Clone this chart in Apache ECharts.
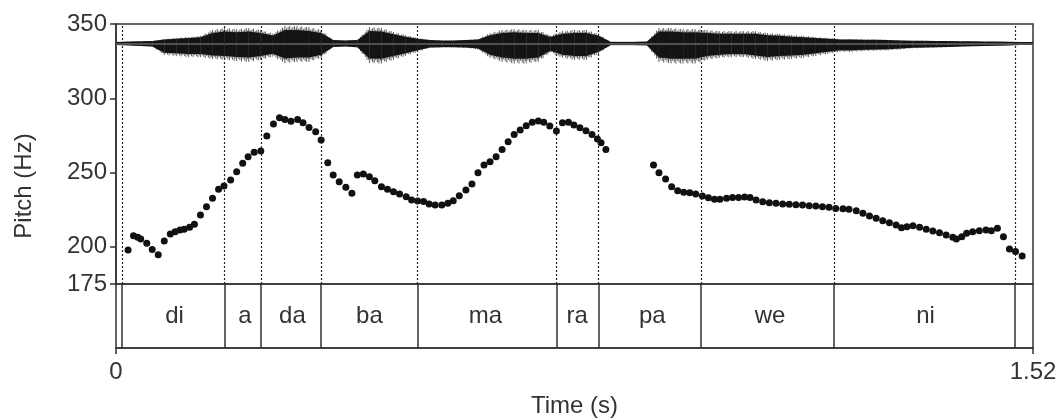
<!DOCTYPE html>
<html>
<head>
<meta charset="utf-8">
<script src="https://cdn.jsdelivr.net/npm/echarts@6/dist/echarts.min.js"></script>
<style>
  html, body { margin: 0; padding: 0; background: #fff; }
  #chart1 { width: 1064px; height: 419px; }
</style>
</head>
<body>
<div id="chart1"></div>
<script>
// pitch track (s, Hz)
var pitchTimes = [0.020, 0.029, 0.036, 0.041, 0.051, 0.060, 0.070, 0.080, 0.090, 0.098, 0.106, 0.113, 0.122, 0.130,
    0.140, 0.150, 0.160, 0.170, 0.179, 0.190, 0.200, 0.210, 0.219, 0.229, 0.240, 0.250, 0.261, 0.271, 0.280,
    0.290, 0.301, 0.310, 0.320, 0.331, 0.340, 0.351, 0.360, 0.370, 0.381, 0.391,
    0.400, 0.410, 0.420, 0.429, 0.440, 0.450, 0.460, 0.470, 0.481, 0.490, 0.500, 0.510, 0.519, 0.529, 0.540,
    0.550, 0.559, 0.569, 0.580, 0.590, 0.600, 0.610, 0.620, 0.630, 0.640, 0.650, 0.660, 0.670, 0.680, 0.690,
    0.700, 0.709, 0.719, 0.730, 0.740, 0.750, 0.759, 0.769, 0.779, 0.789, 0.798, 0.804, 0.812,
    0.891, 0.900, 0.911, 0.921, 0.931, 0.941, 0.951, 0.961, 0.972, 0.982, 0.992, 1.001, 1.012, 1.022, 1.032,
    1.042, 1.051, 1.061, 1.072, 1.083, 1.094, 1.105, 1.116, 1.127, 1.138, 1.149, 1.160, 1.171, 1.182, 1.193,
    1.205, 1.215, 1.227, 1.238, 1.249, 1.260, 1.271, 1.282, 1.293, 1.302, 1.311, 1.321, 1.332, 1.343, 1.354,
    1.365, 1.376, 1.387, 1.393, 1.402, 1.410, 1.420, 1.431, 1.442, 1.451, 1.461, 1.471, 1.481, 1.491, 1.502];
var pitchHz = [197.9, 207.5, 206.4, 205.3, 202.4, 198.3, 194.7, 203.9, 208.6, 210.2, 211.3, 211.8, 213.2, 215.2,
    221.4, 227.0, 232.7, 238.7, 240.9, 245.0, 250.6, 256.2, 260.7, 263.6, 264.5, 274.6, 282.7, 286.9, 285.8,
    284.5, 285.8, 283.5, 280.4, 277.5, 271.9, 256.6, 248.4, 243.8, 240.1, 236.0,
    248.4, 249.0, 247.2, 244.5, 240.5, 238.7, 237.1, 235.6, 233.8, 231.5, 230.9, 230.6, 228.8, 228.2, 228.2,
    229.3, 231.1, 234.4, 238.3, 242.3, 249.9, 255.1, 257.3, 260.7, 265.6, 270.8, 275.7, 278.6, 281.5, 283.8,
    284.7, 283.8, 281.3, 278.0, 283.5, 283.8, 282.0, 280.2, 278.2, 275.7, 272.6, 270.1, 265.6,
    255.1, 249.9, 245.7, 240.5, 237.8, 236.7, 236.4, 235.6, 234.2, 233.1, 232.0, 232.0, 232.7, 233.3, 233.3,
    233.5, 233.3, 231.5, 230.4, 229.7, 229.3, 228.8, 228.6, 228.4, 228.2, 227.7, 227.5, 227.0, 226.6, 225.9,
    225.7, 225.3, 224.3, 222.6, 220.8, 219.2, 217.6, 216.3, 214.7, 212.9, 213.6, 214.2, 213.2, 211.8, 210.7,
    209.5, 208.0, 206.4, 205.3, 206.8, 209.1, 210.2, 210.9, 211.3, 210.9, 212.5, 206.8, 198.6, 196.8, 193.9];

// segment boundaries (s) and syllable labels
var boundaryTimes = [0.011, 0.183, 0.244, 0.341, 0.499, 0.726, 0.803, 0.975, 1.193, 1.491];
var syllables = ['di', 'a', 'da', 'ba', 'ma', 'ra', 'pa', 'we', 'ni'];

// waveform envelope, every 0.02 s (relative amplitude above / below zero)
var waveTimes = [0.00, 0.02, 0.04, 0.06, 0.08, 0.10, 0.12, 0.14, 0.16, 0.18, 0.20, 0.22, 0.24, 0.26, 0.28, 0.30,
    0.32, 0.34, 0.36, 0.38, 0.40, 0.42, 0.44, 0.46, 0.48, 0.50, 0.52, 0.54, 0.56, 0.58, 0.60, 0.62, 0.64, 0.66,
    0.68, 0.70, 0.72, 0.74, 0.76, 0.78, 0.80, 0.82, 0.84, 0.86, 0.88, 0.90, 0.92, 0.94, 0.96, 0.98, 1.00, 1.02,
    1.04, 1.06, 1.08, 1.10, 1.12, 1.14, 1.16, 1.18, 1.20, 1.22, 1.24, 1.26, 1.28, 1.30, 1.32, 1.34, 1.36, 1.38,
    1.40, 1.42, 1.44, 1.46, 1.48, 1.50, 1.52];
var waveUpper = [0.05, 0.08, 0.10, 0.12, 0.22, 0.28, 0.32, 0.38, 0.68, 0.78, 0.72, 0.78, 0.68, 0.50, 0.88, 0.88,
    0.82, 0.68, 0.18, 0.15, 0.18, 0.82, 0.78, 0.58, 0.42, 0.28, 0.18, 0.15, 0.15, 0.18, 0.22, 0.52, 0.68, 0.72,
    0.68, 0.68, 0.40, 0.62, 0.68, 0.68, 0.48, 0.06, 0.06, 0.06, 0.08, 0.78, 0.78, 0.72, 0.72, 0.68, 0.62, 0.62,
    0.62, 0.62, 0.52, 0.48, 0.42, 0.38, 0.32, 0.28, 0.22, 0.22, 0.20, 0.20, 0.18, 0.16, 0.14, 0.13, 0.12, 0.12,
    0.10, 0.10, 0.08, 0.08, 0.06, 0.05, 0.04];
var waveLower = [0.05, 0.08, 0.12, 0.15, 0.58, 0.62, 0.68, 0.68, 0.78, 0.82, 0.88, 0.92, 0.82, 0.66, 0.98, 0.92,
    0.92, 0.72, 0.18, 0.15, 0.20, 0.98, 1.00, 0.82, 0.62, 0.42, 0.22, 0.20, 0.20, 0.22, 0.30, 0.72, 0.92, 1.00,
    1.00, 0.92, 0.45, 0.72, 0.82, 0.82, 0.52, 0.06, 0.06, 0.06, 0.08, 0.92, 1.00, 1.00, 1.00, 0.82, 0.72, 0.68,
    0.68, 0.78, 0.88, 0.82, 0.78, 0.72, 0.62, 0.52, 0.42, 0.42, 0.38, 0.36, 0.34, 0.30, 0.24, 0.22, 0.20, 0.18,
    0.16, 0.14, 0.12, 0.10, 0.08, 0.05, 0.04];

var yTicks = [175, 200, 250, 300, 350];
var xTicks = [0, 1.52];

var chart1 = echarts.init(document.getElementById('chart1'));

var fontFam = 'Liberation Sans, Arial, sans-serif';
var lineCol = '#333';

var pitchData = pitchTimes.map(function (t, i) { return [t, pitchHz[i]]; });
var waveData = waveTimes.map(function (t, i) { return [t, waveUpper[i], waveLower[i]]; });
var segData = syllables.map(function (s, i) { return [boundaryTimes[i], boundaryTimes[i + 1], s]; });

// one trapezoid of the envelope between sample i and i+1, plus vertical hatching
function renderWave(params, api) {
    var i = params.dataIndexInside;
    if (i >= params.dataInsideLength - 1) return;
    var tA = api.value(0, i), tB = api.value(0, i + 1);
    var a = api.coord([tA, 0]), b = api.coord([tB, 0]);
    var upA = api.coord([tA, api.value(1, i)])[1], upB = api.coord([tB, api.value(1, i + 1)])[1];
    var loA = api.coord([tA, -api.value(2, i)])[1], loB = api.coord([tB, -api.value(2, i + 1)])[1];
    var cy = a[1];
    var core = 0.72;
    var kids = [{
        type: 'polygon',
        shape: { points: [
            [a[0], cy - (cy - upA) * core - 0.8], [b[0], cy - (cy - upB) * core - 0.8],
            [b[0], cy + (loB - cy) * core + 0.8], [a[0], cy + (loA - cy) * core + 0.8]
        ] },
        style: { fill: '#111' }
    }];
    var k = 0;
    for (var x = a[0]; x < b[0]; x += 1.6, k++) {
        var r = (x - a[0]) / (b[0] - a[0]);
        var up = upA + (upB - upA) * r, lo = loA + (loB - loA) * r;
        var f = (k % 3 === 1) ? 0.86 : (k % 3 === 2 ? 0.94 : 1);
        kids.push({
            type: 'line',
            shape: { x1: x, y1: cy - (cy - up) * f, x2: x, y2: cy + (lo - cy) * f },
            style: { stroke: '#1a1a1a', lineWidth: 1, opacity: 0.7 }
        });
    }
    return { type: 'group', children: kids };
}

var option = {
    animation: false,
    backgroundColor: '#fff',
    grid: [
        { left: 116, right: 31, top: 24, height: 260, show: true, borderColor: lineCol, borderWidth: 1.5 },
        { left: 116, right: 31, top: 284, height: 65, show: true, borderColor: lineCol, borderWidth: 1.5 },
        { left: 116, right: 31, top: 23.5, height: 40 }
    ],
    xAxis: [
        { gridIndex: 0, type: 'value', min: 0, max: 1.52, show: false },
        {
            gridIndex: 1, type: 'value', min: 0, max: 1.52,
            axisLine: { show: true, lineStyle: { color: lineCol, width: 1.5 } },
            axisTick: { show: true, customValues: xTicks, length: 6, lineStyle: { color: lineCol, width: 1.5 } },
            axisLabel: { customValues: xTicks, fontSize: 24, color: '#333', margin: 12, fontFamily: fontFam },
            splitLine: { show: false },
            name: 'Time (s)', nameLocation: 'middle', nameGap: 46,
            nameTextStyle: { fontSize: 24, color: '#333', fontFamily: fontFam }
        },
        { gridIndex: 2, type: 'value', min: 0, max: 1.52, show: false }
    ],
    yAxis: [
        {
            gridIndex: 0, type: 'value', min: 175, max: 350,
            axisLine: { show: true, lineStyle: { color: lineCol, width: 1.5 } },
            axisTick: { show: true, customValues: yTicks, length: 6, lineStyle: { color: lineCol, width: 1.5 } },
            axisLabel: { customValues: yTicks, fontSize: 24, color: '#333', margin: 9, fontFamily: fontFam },
            splitLine: { show: false }
        },
        { gridIndex: 1, type: 'value', min: 0, max: 1, show: false },
        { gridIndex: 2, type: 'value', min: -1, max: 1, show: false }
    ],
    graphic: [
        {
            type: 'text', x: 24, y: 186, rotation: Math.PI / 2,
            style: { text: 'Pitch (Hz)', fontSize: 24, fill: '#333', fontFamily: fontFam, align: 'center', verticalAlign: 'middle' }
        }
    ],
    series: [
        {
            type: 'custom', xAxisIndex: 2, yAxisIndex: 2, silent: true,
            data: waveData,
            renderItem: renderWave,
            markLine: {
                silent: true, symbol: ['none', 'none'], label: { show: false },
                lineStyle: { type: 'solid', color: '#666', width: 1.5 },
                data: [{ yAxis: 0 }]
            },
            z: 3
        },
        {
            type: 'scatter', xAxisIndex: 0, yAxisIndex: 0,
            data: pitchData,
            symbol: 'circle', symbolSize: 7,
            itemStyle: { color: '#111', opacity: 1 },
            markLine: {
                silent: true, symbol: ['none', 'none'], label: { show: false },
                lineStyle: { type: [2, 2], color: '#222', width: 1.2 },
                data: boundaryTimes.map(function (t) { return { xAxis: t }; })
            },
            z: 4
        },
        {
            type: 'custom', xAxisIndex: 1, yAxisIndex: 1, silent: true,
            data: segData,
            renderItem: function (params, api) {
                var p0 = api.coord([api.value(0), 0.5]);
                var p1 = api.coord([api.value(1), 0.5]);
                return {
                    type: 'text',
                    style: {
                        x: (p0[0] + p1[0]) / 2, y: p0[1], text: syllables[params.dataIndex],
                        fontSize: 24, fill: '#333', fontFamily: fontFam, align: 'center', verticalAlign: 'middle'
                    }
                };
            },
            markLine: {
                silent: true, symbol: ['none', 'none'], label: { show: false },
                lineStyle: { type: 'solid', color: lineCol, width: 1.5 },
                data: boundaryTimes.map(function (t) { return { xAxis: t }; })
            }
        }
    ]
};

chart1.setOption(option);
</script>
</body>
</html>
